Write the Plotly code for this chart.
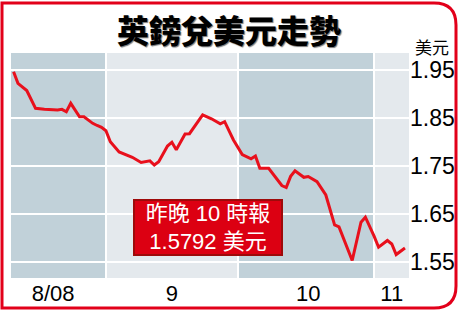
import plotly.graph_objects as go

# ---- data ----
dates = [
    "2008-08-11", "2008-08-12", "2008-08-14", "2008-08-16", "2008-08-18",
    "2008-08-21", "2008-08-22", "2008-08-23", "2008-08-24", "2008-08-26",
    "2008-08-27", "2008-08-29", "2008-08-30", "2008-08-31", "2008-09-01",
    "2008-09-02", "2008-09-04", "2008-09-07", "2008-09-09", "2008-09-11",
    "2008-09-12", "2008-09-13", "2008-09-15", "2008-09-16", "2008-09-17",
    "2008-09-19", "2008-09-20", "2008-09-23", "2008-09-25", "2008-09-27",
    "2008-09-28", "2008-09-30", "2008-10-02", "2008-10-04", "2008-10-05",
    "2008-10-06", "2008-10-08", "2008-10-11", "2008-10-12", "2008-10-13",
    "2008-10-14", "2008-10-16", "2008-10-17", "2008-10-19", "2008-10-21",
    "2008-10-23", "2008-10-24", "2008-10-27", "2008-10-29", "2008-10-30",
    "2008-11-01", "2008-11-02", "2008-11-04", "2008-11-05", "2008-11-06",
    "2008-11-08",
]
rates = [
    1.9465, 1.9223, 1.9073, 1.8702, 1.8681,
    1.8667, 1.8681, 1.8631, 1.8806, 1.8527,
    1.8527, 1.8389, 1.8344, 1.8306, 1.8235,
    1.8006, 1.7792, 1.7681, 1.7573, 1.7608,
    1.7521, 1.7590, 1.7917, 1.7996, 1.7840,
    1.8167, 1.8173, 1.8563, 1.8483, 1.8377,
    1.8423, 1.8042, 1.7740, 1.7650, 1.7708,
    1.7452, 1.7452, 1.7094, 1.7052, 1.7285,
    1.7402, 1.7265, 1.7281, 1.7173, 1.6896,
    1.6271, 1.6233, 1.5531, 1.6329, 1.6433,
    1.6035, 1.5808, 1.5948, 1.5875, 1.5656,
    1.5792,
]

month_starts = ["2008-09-01", "2008-10-01", "2008-11-01"]
band_edges = ["2008-08-01", "2008-09-01", "2008-10-01", "2008-11-01", "2008-12-01"]
band_colors = ["#c1d1d9", "#e4e9ed", "#c1d1d9", "#e4e9ed"]
month_tick_vals = ["2008-08-20", "2008-09-16", "2008-10-17", "2008-11-05"]
month_tick_text = ["8/08", "9", "10", "11"]
y_ticks = [1.55, 1.65, 1.75, 1.85, 1.95]
y_tick_text = ["1.55", "1.65", "1.75", "1.85", "1.95"]

title_text = "英鎊兌美元走勢"
unit_text = "美元"
box_text = "昨晚 10 時報<br>1.5792 美元"

RED = "#e2001a"
LATIN = "Liberation Sans, Arial, Noto Sans CJK TC"

# ---- geometry (page pixels) ----
W, H = 459, 311
ML, MR, MT, MB = 11, 50, 53, 33
PW, PH = W - ML - MR, H - MT - MB


def px(xp):
    return (xp - ML) / PW


def py(yp):
    return (H - MB - yp) / PH


fig = go.Figure()
fig.add_trace(go.Scatter(
    x=dates, y=rates, mode="lines",
    line=dict(color="#e8101c", width=3), hoverinfo="skip", showlegend=False,
))

shapes = []
for i, c in enumerate(band_colors):
    shapes.append(dict(type="rect", xref="x", yref="paper",
                       x0=band_edges[i], x1=band_edges[i + 1], y0=0, y1=1,
                       fillcolor=c, line=dict(width=0), layer="below"))

# outer rounded red frame (page coords -> paper coords)
x0, y0, x1, y1, r = 2, 3, 456, 308, 22
path = (f"M {px(x0)},{py(y0)} L {px(x1 - r)},{py(y0)} "
        f"Q {px(x1)},{py(y0)} {px(x1)},{py(y0 + r)} "
        f"L {px(x1)},{py(y1 - r)} "
        f"Q {px(x1)},{py(y1)} {px(x1 - r)},{py(y1)} "
        f"L {px(x0)},{py(y1)} Z")
shapes.append(dict(type="path", xref="paper", yref="paper", path=path,
                   line=dict(color=RED, width=3), fillcolor="rgba(0,0,0,0)",
                   layer="above"))

annotations = [
    dict(text=title_text, x=px(229), y=py(29), xref="paper", yref="paper",
         xanchor="center", yanchor="middle", showarrow=False,
         font=dict(family="Noto Sans CJK TC", size=32, color="black", weight=900,
                   shadow="1px 1px 1px #777")),
    dict(text=unit_text, x=px(413), y=py(46), xref="paper", yref="paper",
         xanchor="left", yanchor="middle", showarrow=False,
         font=dict(family="Noto Sans CJK TC", size=17, color="black")),
    dict(text=box_text, x=px(208), y=py(227.5), xref="paper", yref="paper",
         xanchor="center", yanchor="middle", showarrow=False,
         width=146, height=53, borderpad=0, borderwidth=2,
         bgcolor="#dc0012", bordercolor="#9e0a0a",
         font=dict(family=LATIN, size=22, color="white")),
]

fig.update_layout(
    width=W, height=H, margin=dict(l=ML, r=MR, t=MT, b=MB, autoexpand=False),
    paper_bgcolor="white", plot_bgcolor="white",
    shapes=shapes, annotations=annotations, showlegend=False,
    xaxis=dict(
        range=["2008-08-10 10:00", "2008-11-08 22:00"],
        tickvals=month_tick_vals, ticktext=month_tick_text,
        showgrid=False, zeroline=False, showline=False, ticks="",
        tickfont=dict(family=LATIN, size=22, color="black"),
        minor=dict(tickvals=month_starts, showgrid=True,
                   gridcolor="white", gridwidth=2, ticks=""),
        fixedrange=True, automargin=False,
    ),
    yaxis=dict(
        range=[1.5167, 1.9854], side="right",
        tickvals=y_ticks, ticktext=y_tick_text,
        showgrid=True, gridcolor="white", gridwidth=2,
        zeroline=False, showline=False, ticks="",
        tickfont=dict(family=LATIN, size=23, color="black"),
        fixedrange=True, automargin=False,
    ),
)

fig.write_html("out.html", config=dict(displayModeBar=False))
